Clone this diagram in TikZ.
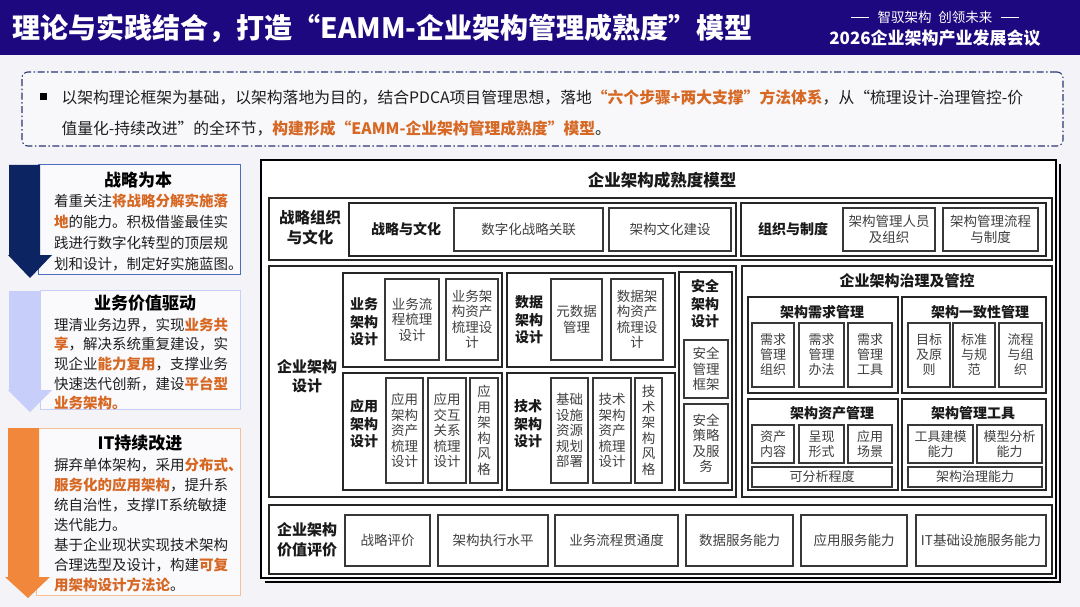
\documentclass[tikz,border=0pt]{standalone}
\usepackage{fontspec}
\setmainfont{Noto Sans CJK SC}
\usepackage{xcolor}
\usepackage{tikz}
\usetikzlibrary{fit, positioning}

\definecolor{hdrblue}{RGB}{30,8,128}
\definecolor{pagebg}{RGB}{243,243,248}
\definecolor{accorange}{RGB}{214,104,36}
\definecolor{navyarrow}{RGB}{12,36,97}
\definecolor{navyline}{RGB}{78,108,188}
\definecolor{lavarrow}{RGB}{200,206,250}
\definecolor{orangearrow}{RGB}{241,135,58}
\definecolor{orangeline}{RGB}{247,192,152}
\definecolor{dashnavy}{RGB}{45,55,115}
\definecolor{textdark}{RGB}{30,30,30}
\newcommand{\orng}[1]{\textcolor{accorange}{\bfseries #1}}
\newcommand{\fs}[2]{\fontsize{#1}{#2}\selectfont}

\begin{document}
\begin{tikzpicture}[x=1pt, y=-1pt,
  cell/.style={draw=black!78, line width=1.1pt, fill=white, inner sep=0pt},
  celltxt/.style={align=center, text=black!75, font=\fs{13.5}{15.5}, inner sep=0pt},
  gcelltxt/.style={celltxt, font=\fs{13}{15}},
  grp/.style={draw=black!85, line width=1.2pt, inner sep=0pt},
  lbl/.style={font=\bfseries\fs{14}{17.5}, align=center, text=black!90},
  sidetxt/.style={font=\fs{14.5}{18}, anchor=west, inner sep=0pt, text=textdark},
  sidetitle/.style={font=\bfseries\fs{17}{20}, text=black}]

  \fill[pagebg] (0,0) rectangle (1080,607);
  \useasboundingbox (0,0) rectangle (1080,607);

  % header bar
  \fill[hdrblue] (0,0) rectangle (1080,55);
  \node[font=\bfseries\fs{28}{32}, text=white, anchor=west] (title) at (9,28)
    {理论与实践结合，打造“EAMM-企业架构管理成熟度”模型};
  \node[font=\fs{13.5}{15}, text=white] (motto) at (935,17) {智驭架构\enspace 创领未来};
  \draw[white, line width=0.9pt] ([xshift=-5pt]motto.west) -- ++(-18,0);
  \draw[white, line width=0.9pt] ([xshift=5pt]motto.east) -- ++(18,0);
  \node[font=\bfseries\fs{17}{20}, text=white] (conf) at (935,38) {2026企业架构产业发展会议};

  % intro box
  \node[fit={(22,72) (1063,146)}, inner sep=0pt, draw=dashnavy, line width=1.1pt,
        dash pattern=on 7pt off 2.5pt on 1.5pt off 2.5pt, rounded corners=6pt,
        fill=white!40!pagebg] (intro) {};
  \node[fill=black, minimum size=7pt, inner sep=0pt] (bul) at (43,97) {};
  \node[font=\fs{15.8}{18}, anchor=west, text=textdark] (introa) at (58,97)
    {以架构理论框架为基础，以架构落地为目的，结合PDCA项目管理思想，落地\orng{“六个步骤+两大支撑”方法体系}，从“梳理设计-治理管控-价};
  \node[font=\fs{15.8}{18}, anchor=west, text=textdark] (introb) at (58,128)
    {值量化-持续改进”的全环节，\orng{构建形成“EAMM-企业架构管理成熟度”模型}。};

  % left: three drivers
  \node[fit={(38,165) (240,274)}, inner sep=0pt, draw=navyline, line width=1pt, fill=white!55!pagebg] (pa) {};
  \fill[navyarrow] (9,165) -- (40,165) -- (40,255) -- (52,255) -- (30,278) -- (8,255) -- (9,255) -- cycle;
  \node[sidetitle] (pat) at (138,180) {战略为本};
  \foreach \ln [count=\k] in {着重关注\orng{将战略分解实施落}, \orng{地}的能力。积极借鉴最佳实,
      践进行数字化转型的顶层规, 划和设计，制定好实施蓝图。}
    \node[sidetxt] (pa\k) at (54,{180+21*\k}) {\ln};

  \node[fit={(40,290) (240,409)}, inner sep=0pt, draw=lavarrow, line width=1pt, fill=white!55!pagebg] (pb) {};
  \fill[lavarrow] (9,291) -- (40,291) -- (40,390) -- (52,390) -- (30,412) -- (8,390) -- (9,390) -- cycle;
  \node[sidetitle] (pbt) at (145,303) {业务价值驱动};
  \foreach \ln [count=\k] in {理清业务边界，实现\orng{业务共}, \orng{享}，解决系统重复建设，实,
      现企业\orng{能力复用}，支撑业务, 快速迭代创新，建设\orng{平台型}, \orng{业务架构。}}
    \node[sidetxt] (pb\k) at (54,{305.5+19.5*\k}) {\ln};

  \node[fit={(36,428) (240,595)}, inner sep=0pt, draw=orangeline, line width=1pt, fill=white!55!pagebg] (pc) {};
  \fill[orangearrow] (8,428) -- (39,428) -- (39,577) -- (50,577) -- (28,598) -- (5,577) -- (8,577) -- cycle;
  \node[sidetitle] (pct) at (140,443) {IT持续改进};
  \foreach \ln [count=\k] in {摒弃单体架构，采用\orng{分布式、}, \orng{服务化的应用架构}，提升系,
      统自治性，支撑IT系统敏捷, 迭代能力。, 基于企业现状实现技术架构,
      合理选型及设计，构建\orng{可复}, \orng{用架构设计方法论}。}
    \node[sidetxt] (pc\k) at (54,{445+20*\k}) {\ln};

  % right: maturity model frame
  \draw[black, line width=1.2pt] (1060,164) -- (1060,582) -- (265,582);
  \node[fit={(261,160) (1056,578)}, inner sep=0pt, draw=black, line width=1.5pt, fill=white] (frame) {};
  \node[lbl, font=\bfseries\fs{16.5}{20}] (mtitle) at (662,180) {企业架构成熟度模型};

  % row 1: strategy, organisation, culture
  \node[grp, fit={(269,198) (1052,260)}] (rowsoc) {};
  \node[lbl, font=\bfseries\fs{15.5}{20}] (rowsocl) at (310,228) {战略组织\\与文化};
  \node[grp, fit={(349,203) (736,256)}] (stcult) {};
  \node[lbl] (stcultl) at (406,229) {战略与文化};
  \node[cell, fit={(454,208) (603,251)}, label={[celltxt]center:数字化战略关联}] (dstrat) {};
  \node[cell, fit={(609,208) (731,251)}, label={[celltxt]center:架构文化建设}] (acult) {};
  \node[grp, fit={(741,203) (1046,256)}] (orgsys) {};
  \node[lbl] (orgsysl) at (793,229) {组织与制度};
  \node[cell, fit={(843,208) (935,251)}, label={[celltxt]center:架构管理人员\\及组织}] (amstaff) {};
  \node[cell, fit={(943,208) (1038,251)}, label={[celltxt]center:架构管理流程\\与制度}] (amproc) {};

  % row 2 left: architecture design
  \node[grp, fit={(269,266) (736,497)}] (design) {};
  \node[lbl, font=\bfseries\fs{15}{19}] (designl) at (307,376) {企业架构\\设计};
  \node[grp, fit={(343,273) (502,367)}] (bizarch) {};
  \node[lbl] (bizarchl) at (364,322) {业务\\架构\\设计};
  \node[cell, fit={(385,279) (439,360)}, label={[celltxt]center:业务流\\程梳理\\设计}] (bizflow) {};
  \node[cell, fit={(446,279) (498,360)}, label={[celltxt]center:业务架\\构资产\\梳理设\\计}] (bizasset) {};
  \node[grp, fit={(507,273) (675,367)}] (dataarch) {};
  \node[lbl] (dataarchl) at (529,320) {数据\\架构\\设计};
  \node[cell, fit={(551,279) (602,360)}, label={[celltxt]center:元数据\\管理}] (meta) {};
  \node[cell, fit={(611,279) (663,360)}, label={[celltxt]center:数据架\\构资产\\梳理设\\计}] (dataasset) {};
  \node[grp, fit={(343,373) (502,490)}] (apparch) {};
  \node[lbl] (apparchl) at (364,424) {应用\\架构\\设计};
  \node[cell, fit={(386,378) (423,483)}, label={[celltxt]center:应用\\架构\\资产\\梳理\\设计}] (appasset) {};
  \node[cell, fit={(428,378) (466,483)}, label={[celltxt]center:应用\\交互\\关系\\梳理\\设计}] (appinter) {};
  \node[cell, fit={(470,378) (498,483)}, label={[celltxt]center:应\\用\\架\\构\\风\\格}] (appstyle) {};
  \node[grp, fit={(507,373) (675,490)}] (techarch) {};
  \node[lbl] (techarchl) at (528,424) {技术\\架构\\设计};
  \node[cell, fit={(551,378) (588,483)}, label={[celltxt]center:基础\\设施\\资源\\规划\\部署}] (infra) {};
  \node[cell, fit={(593,378) (631,483)}, label={[celltxt]center:技术\\架构\\资产\\梳理\\设计}] (techasset) {};
  \node[cell, fit={(635,378) (662,483)}, label={[celltxt]center:技\\术\\架\\构\\风\\格}] (techstyle) {};
  \node[grp, fit={(679,272) (732,490)}] (secarch) {};
  \node[lbl] (secarchl) at (705,304) {安全\\架构\\设计};
  \node[cell, fit={(684,340) (728,398)}, label={[celltxt]center:安全\\管理\\框架}] (secframe) {};
  \node[cell, fit={(684,404) (728,483)}, label={[celltxt]center:安全\\策略\\及服\\务}] (secpolicy) {};

  % row 2 right: governance and control
  \node[grp, fit={(742,266) (1052,497)}] (gov) {};
  \node[lbl, font=\bfseries\fs{15}{18}] (govl) at (907,281) {企业架构治理及管控};
  \node[grp, fit={(748,297) (898,393)}] (reqm) {};
  \node[lbl] (reqml) at (822,312) {架构需求管理};
  \foreach \xa/\xb/\txt [count=\k] in {752/794/需求\\管理\\组织, 799/844/需求\\管理\\办法, 848/892/需求\\管理\\工具}
    \node[cell, fit={(\xa,323) (\xb,387)}, label={[gcelltxt]center:\txt}] (req\k) {};
  \node[grp, fit={(902,297) (1046,393)}] (conm) {};
  \node[lbl] (conml) at (980,312) {架构一致性管理};
  \foreach \xa/\xb/\txt [count=\k] in {908/950/目标\\及原\\则, 953/995/标准\\与规\\范, 999/1042/流程\\与组\\织}
    \node[cell, fit={(\xa,323) (\xb,387)}, label={[gcelltxt]center:\txt}] (con\k) {};
  \node[grp, fit={(748,399) (898,490)}] (assetm) {};
  \node[lbl] (assetml) at (832,413) {架构资产管理};
  \foreach \xa/\xb/\txt [count=\k] in {752/794/资产\\内容, 799/844/呈现\\形式, 848/892/应用\\场景}
    \node[cell, fit={(\xa,425) (\xb,463)}, label={[gcelltxt]center:\txt}] (ast\k) {};
  \node[cell, fit={(752,467) (892,487)}, label={[gcelltxt]center:可分析程度}] (astana) {};
  \node[grp, fit={(902,399) (1046,490)}] (toolm) {};
  \node[lbl] (toolml) at (973,413) {架构管理工具};
  \node[cell, fit={(908,425) (973,463)}, label={[gcelltxt]center:工具建模\\能力}] (toolmod) {};
  \node[cell, fit={(977,425) (1042,463)}, label={[gcelltxt]center:模型分析\\能力}] (toolana) {};
  \node[cell, fit={(908,467) (1042,487)}, label={[gcelltxt]center:架构治理能力}] (toolgov) {};

  % row 3: value evaluation
  \node[grp, fit={(269,505) (1052,574)}] (evalrow) {};
  \node[lbl, font=\bfseries\fs{15}{20}] (evall) at (307,540) {企业架构\\价值评价};
  \foreach \xa/\xb/\txt [count=\k] in {345/430/战略评价, 438/548/架构执行水平, 555/678/业务流程贯通度,
      686/793/数据服务能力, 801/907/应用服务能力, 916/1046/IT基础设施服务能力}
    \node[cell, fit={(\xa,515) (\xb,566)}, label={[celltxt]center:\txt}] (ev\k) {};
\end{tikzpicture}
\end{document}
